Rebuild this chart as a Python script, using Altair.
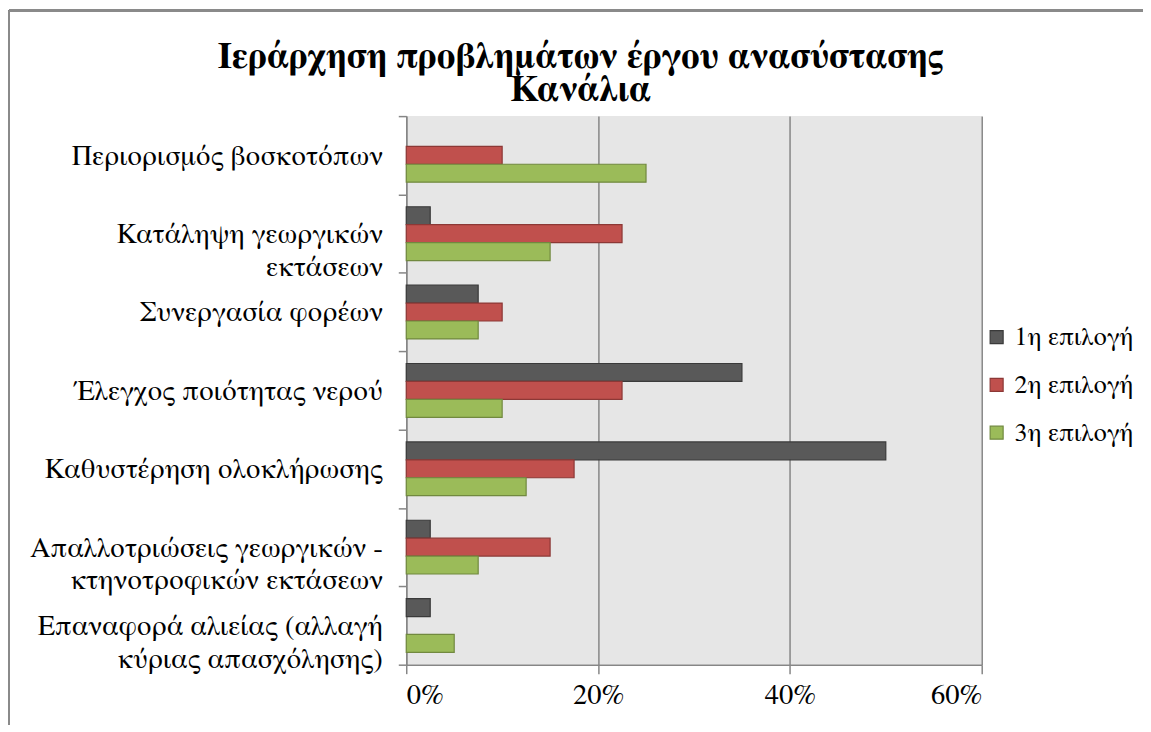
import altair as alt
import pandas as pd

categories = [
    "Περιορισμός βοσκοτόπων",
    "Κατάληψη γεωργικών\nεκτάσεων",
    "Συνεργασία φορέων",
    "Έλεγχος ποιότητας νερού",
    "Καθυστέρηση ολοκλήρωσης",
    "Απαλλοτριώσεις γεωργικών -\nκτηνοτροφικών εκτάσεων",
    "Επαναφορά αλιείας (αλλαγή\nκύριας απασχόλησης)",
]
series = ["1η επιλογή", "2η επιλογή", "3η επιλογή"]
first_choice = [0.0, 0.025, 0.075, 0.35, 0.50, 0.025, 0.025]
second_choice = [0.10, 0.225, 0.10, 0.225, 0.175, 0.15, 0.0]
third_choice = [0.25, 0.15, 0.075, 0.10, 0.125, 0.075, 0.05]
x_ticks = [0, 0.2, 0.4, 0.6]
fills = ["#595959", "#c0504d", "#9bbb59"]
strokes = ["#3a3a3a", "#8c3836", "#71893f"]

rows = []
for s, vals in zip(series, [first_choice, second_choice, third_choice]):
    for c, v in zip(categories, vals):
        rows.append({"cat": c, "series": s, "v": v})
df = pd.DataFrame(rows)

FONT = "FreeSerif, Times New Roman, serif"
FS = 28.6
W, H = 578, 551

bars = alt.Chart(df).transform_filter("datum.v > 0").mark_bar(strokeWidth=1.2).encode(
    y=alt.Y("cat:N", sort=categories,
            scale=alt.Scale(paddingInner=0, paddingOuter=0),
            axis=alt.Axis(title=None, labelExpr="split(datum.label, '\\n')",
                          labelFont=FONT, labelFontSize=FS, labelColor="#000",
                          labelLineHeight=33, labelPadding=16,
                          tickBand="extent", tickSize=8, tickColor="#868686",
                          domainColor="#868686", domainWidth=1.5, tickWidth=1.5,
                          grid=False, labelLimit=0)),
    yOffset=alt.YOffset("series:N", sort=series,
                        scale=alt.Scale(paddingInner=0, paddingOuter=0.686)),
    x=alt.X("v:Q", scale=alt.Scale(domain=[0, 0.6]),
            axis=alt.Axis(title=None, format=".0%", values=x_ticks,
                          labelFont=FONT, labelFontSize=FS, labelColor="#000",
                          labelPadding=7, tickSize=9, tickColor="#868686",
                          tickWidth=1.5, domainColor="#868686", domainWidth=1.5,
                          grid=True, gridColor="#868686", gridWidth=1.5)),
    color=alt.Color("series:N", sort=series,
                    scale=alt.Scale(domain=series, range=fills),
                    legend=alt.Legend(title=None, orient="none", legendX=580, legendY=209,
                                      symbolType="square", symbolSize=170,
                                      symbolStrokeWidth=1.2,
                                      labelFont=FONT, labelFontSize=26, labelColor="#000",
                                      labelOffset=5, rowPadding=22, labelLimit=0)),
    stroke=alt.Stroke("series:N", sort=series,
                      scale=alt.Scale(domain=series, range=strokes), legend=None),
)

border = alt.Chart(df).mark_rule(color="#8a8a8a", strokeWidth=2, clip=False).encode(
    x=alt.value(-399), y=alt.value(-106), y2=alt.value(H + 60)
)
border_top = alt.Chart(df).mark_rule(color="#8a8a8a", strokeWidth=2, clip=False).encode(
    x=alt.value(-399), x2=alt.value(W + 172), y=alt.value(-106)
)

chart = alt.layer(bars, border, border_top).properties(
    width=W, height=H,
    background="white",
    autosize=alt.AutoSizeParams(type="none"),
    padding={"left": 400, "top": 107, "right": 162, "bottom": 60},
    title=alt.Title(["Ιεράρχηση προβλημάτων έργου ανασύστασης", "Κανάλια"],
                    font=FONT, fontSize=37, fontWeight="bold", color="#000",
                    anchor="middle", dx=-114, offset=0, dy=100, lineHeight=33),
).configure_view(fill="#e6e6e6", strokeWidth=0)

chart.save("out.html", embed_options={"renderer": "svg", "actions": False})
